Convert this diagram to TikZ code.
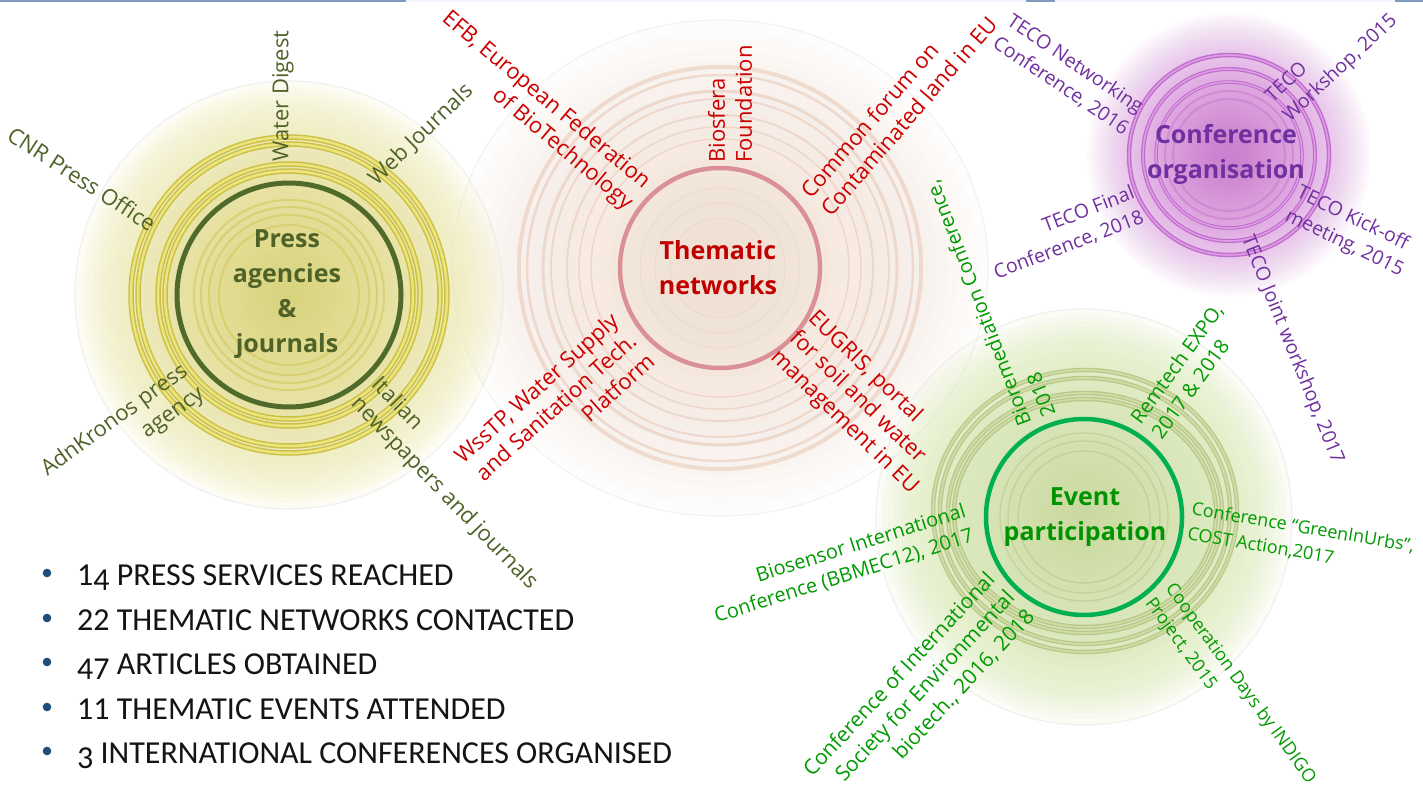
\documentclass[tikz,border=0pt]{standalone}
\usepackage{fontspec}
\setmainfont{Open Sans}
\newfontfamily\bulletfont{Carlito}
\definecolor{pressC}{HTML}{4F6228}
\definecolor{redC}{HTML}{CC0000}
\definecolor{redT}{HTML}{C00000}
\definecolor{purC}{HTML}{7030A0}
\definecolor{grnC}{HTML}{009A00}
\definecolor{grnT}{HTML}{009400}
\definecolor{bulC}{HTML}{1F4E79}
\definecolor{topC}{HTML}{7F9CC0}
\definecolor{prPale}{HTML}{EEEBB4}
\definecolor{prYel}{HTML}{D6CE5C}
\definecolor{prRingD}{HTML}{C8BC3C}
\definecolor{prRingL}{HTML}{ECE47C}
\definecolor{prDark}{HTML}{4F6A2A}
\definecolor{thPale}{HTML}{F6DED3}
\definecolor{thPeach}{HTML}{F0D2C2}
\definecolor{thRing}{HTML}{E8C6B4}
\definecolor{thPink}{HTML}{DA9094}
\definecolor{coGlow}{HTML}{CC62D0}
\definecolor{coRing}{HTML}{B45CC4}
\definecolor{coRingL}{HTML}{E09AE6}
\definecolor{evPale}{HTML}{E0ECBE}
\definecolor{evYel}{HTML}{C2D48E}
\definecolor{evRingD}{HTML}{A2B26E}
\definecolor{evRingL}{HTML}{D2E0A4}
\definecolor{evGreen}{HTML}{00B050}
\newcommand{\dn}[1]{\raisebox{-0.17em}{#1}}
\begin{document}
\begin{tikzpicture}[x=1pt,y=-1pt,
  lbl/.style={inner sep=0pt},
  prlbl/.style={lbl,text=pressC,font=\fontsize{22}{28}\selectfont},
  thlbl/.style={lbl,text=redC,font=\fontsize{22}{27}\selectfont},
  colbl/.style={lbl,text=purC,font=\fontsize{19.5}{26}\selectfont},
  evlbl/.style={lbl,text=grnC,font=\fontsize{20}{26}\selectfont},
  ttl/.style={inner sep=0pt,align=center,font=\fontsize{25}{35}\selectfont\bfseries},
  bul/.style={inner sep=0pt,anchor=base west,text=black!92,font=\bulletfont\fontsize{32}{36}\selectfont},
  dot/.style={fill=bulC}]
\useasboundingbox (0,0) rectangle (1423,792);
\fill[white] (0,0) rectangle (1423,792);
\draw[line width=2,blue!4] (0,1) -- (1423,1);
\draw[line width=2,topC] (0,1) -- (406,1) (1026,1) -- (1055,1) (1395,1) -- (1423,1);

% ---------- Thematic halo ----------
\coordinate (T) at (720,268);
\foreach \r in {268,258,...,140} \fill[thPale,fill opacity=0.06] (T) ellipse ({\r} and {\r-20});
\draw[black!8,line width=1.2,opacity=0.6] (T) ellipse (268 and 248);
\foreach \r in {120,110,...,10} \fill[thPeach,fill opacity=0.04] (T) circle (\r);

% ---------- Press halo ----------
\coordinate (P) at (289,295);
\foreach \r in {214,208,...,160} \fill[prPale,fill opacity=0.14] (P) circle (\r);
\draw[black!9,line width=1.2,opacity=0.6] (P) circle (214);
\foreach \r in {160,153,...,5} \fill[prYel,fill opacity=0.04] (P) circle (\r);

% ---------- Event halo ----------
\coordinate (E) at (1084,517);
\foreach \r in {208,202,...,150} \fill[evPale,fill opacity=0.14] (E) circle (\r);
\draw[black!9,line width=1.2,opacity=0.6] (E) circle (208);
\foreach \r in {150,143,...,5} \fill[evYel,fill opacity=0.04] (E) circle (\r);

% ---------- Conference glow ----------
\coordinate (C) at (1229,155);
\foreach \r in {142,139,...,5} \fill[coGlow,fill opacity=0.027] (C) circle (\r);

% ---------- Thematic rings ----------
\foreach \r/\w in {201/4,193/2.5,177/3,169/2,153/2,141/1.5,129/1.5}
  \draw[thRing,line width=\w,opacity=0.55] (T) circle (\r);
\draw[thPink,line width=4.5] (T) circle (100);
\foreach \r in {80,65,50} \draw[thRing,line width=1,opacity=0.3] (T) circle (\r);

% ---------- Press rings ----------
\foreach \r in {158,151,131,124} {
  \draw[prRingD,line width=5.5,opacity=0.9] (P) circle (\r);
  \draw[prRingL,line width=2.5] (P) circle (\r);
}
\draw[prDark,line width=5] (P) circle (112);
\foreach \r in {95,88,80,70} \draw[prRingD,line width=2,opacity=0.4] (P) circle (\r);

% ---------- Event rings ----------
\foreach \rx/\ry/\cy in {152/141/511,145/133/511,137/120/513,131/114/513} {
  \draw[evRingD,line width=4.5,opacity=0.6] (1085,\cy) ellipse ({\rx} and {\ry});
  \draw[evRingL,line width=1.8,opacity=0.9] (1085,\cy) ellipse ({\rx} and {\ry});
}
\draw[evGreen,line width=4.5] (E) circle (98);
\foreach \r in {84,76,66} \draw[evRingD,line width=1.5,opacity=0.3] (E) circle (\r);

% ---------- Conference rings ----------
\foreach \r/\w in {100/4.5,86/4,73/3.5} {
  \draw[coRing,line width=\w,opacity=0.8] (C) circle (\r);
  \draw[coRingL,line width=1.6] (C) circle (\r);
}
\foreach \r in {64,56} \draw[coRing,line width=2,opacity=0.3] (C) circle (\r);

% ---------- Titles ----------
\node[ttl,text=pressC] (tPress) at (287,294) {Press\\agencies\\\&\\journals};
\node[ttl,text=redT] (tThem) at (718,268) {Thematic\\networks};
\node[ttl,text=purC] (tConf) at (1226,154) {Conference\\organisation};
\node[ttl,text=grnT] (tEvent) at (1085,517) {Event\\participation};

% ---------- Press labels ----------
\node[prlbl,rotate=90] (pWater) at (283,96) {Water Digest};
\node[prlbl,rotate=44] (pWeb) at (421,135) {Web Journals};
\node[prlbl,rotate=-33] (pCNR) at (82,179) {CNR Press Office};
\node[prlbl,rotate=36,align=right] (pAdn) at (123,432) {AdnKronos press\\agency};
\node[prlbl,rotate=-46,align=left] (pIta) at (454,484) {Italian\\newspapers and journals};

% ---------- Thematic labels ----------
\node[thlbl,rotate=-40,align=right] (tEFB) at (537,111) {EFB, European Federation\\of BioTechnology};
\node[thlbl,rotate=90,align=left] (tBio) at (730,104) {Biosfera\\Foundation};
\node[thlbl,rotate=49,align=left] (tCom) at (899,107) {Common forum on\\Contaminated land in EU};
\node[thlbl,rotate=42,align=right] (tWss) at (554,408) {WssTP, Water Supply\\and Sanitation Tech.\\Platform};
\node[thlbl,rotate=-44,align=left] (tEug) at (863,403) {EUGRIS, portal\\for soil and water\\management in EU};

% ---------- Conference labels ----------
\node[colbl,rotate=-34,align=right] (cNet) at (1068,75) {TECO Networking\\Conference, 2016};
\node[colbl,rotate=43,align=left] (cWork) at (1332,59) {TECO\\Workshop, 2015};
\node[colbl,rotate=21,align=right] (cFin) at (1064,233) {TECO Final\\Conference, 2018};
\node[colbl,rotate=-26,align=left] (cKick) at (1350,232) {TECO Kick-off\\meeting, 2015};
\node[colbl,rotate=-68] (cJoint) at (1292,350) {TECO Joint workshop, 2017};

% ---------- Event labels ----------
\node[evlbl,rotate=111,align=left] (eBio) at (990,299) {Bioremediation Conference,\\2018};
\node[evlbl,rotate=54,align=left] (eRem) at (1187,371) {Remtech EXPO,\\2017 \& 2018};
\node[evlbl,rotate=17.5,align=right] (eSen) at (840,564) {Biosensor International\\Conference (BBMEC12), 2017};
\node[evlbl,rotate=-9.6,align=left,font=\fontsize{18}{25}\selectfont] (eGreen) at (1301,540) {Conference “GreenInUrbs”,\\COST Action,2017};
\node[evlbl,rotate=47,align=right,font=\fontsize{21}{27}\selectfont] (eSoc) at (919,693) {Conference of International\\Society for Environmental\\biotech., 2016, 2018};
\node[evlbl,rotate=-54,align=left,font=\fontsize{18}{25}\selectfont] (eCoop) at (1230,691) {Cooperation Days by INDIGO\\Project, 2015};

% ---------- Bullet list ----------
\foreach \y/\nm/\t in {585/b1/1\dn{4} PRESS SERVICES REACHED,
                    630/b2/22 THEMATIC NETWORKS CONTACTED,
                    674/b3/\dn{47} ARTICLES OBTAINED,
                    719/b4/11 THEMATIC EVENTS ATTENDED,
                    763/b5/\dn{3} INTERNATIONAL CONFERENCES ORGANISED} {
  \fill[dot] (47,\y-12) circle (4.3);
  \node[bul] (\nm) at (77,\y) {\t};
}
\end{tikzpicture}
\end{document}
